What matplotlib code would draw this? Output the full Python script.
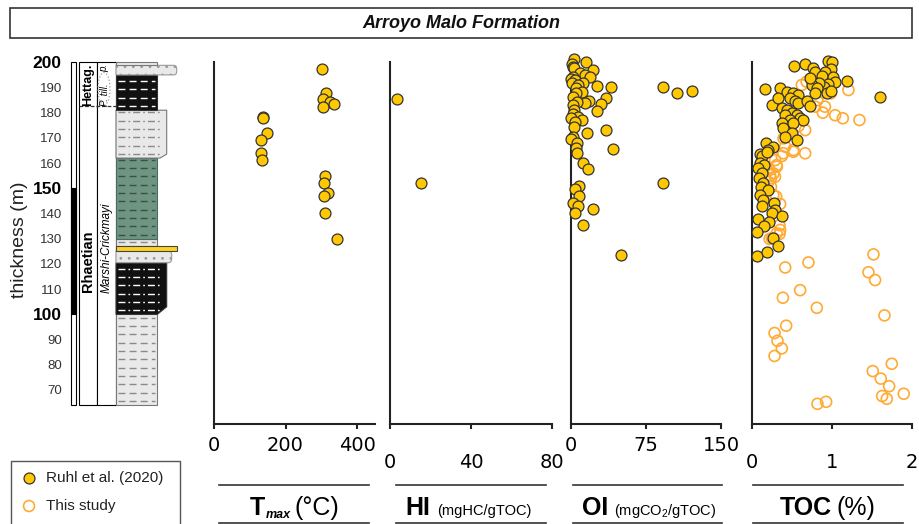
import matplotlib
matplotlib.use("Agg")
import numpy as np
import matplotlib.pyplot as plt
from matplotlib.patches import Rectangle, Polygon, Ellipse

# ---------------- data ----------------
tmax_value = [302, 312, 305, 325, 336, 305, 136, 137, 149, 133, 132, 134, 309, 307, 318, 307, 309, 342]
tmax_depth = [197.3, 187.9, 185.4, 184.1, 183.3, 182.3, 178.4, 177.9, 171.8, 169.2, 164.0, 161.2,
              154.9, 152.1, 148.3, 146.9, 140.3, 129.9]

hi_value = [3.2, 15.2]
hi_depth = [185.6, 152.1]

oi_value = [3.3, 15, 1.0, 2.0, 3.3, 9.3, 22, 14.3, 2.0, 19.3, 0, 4.3, 12.6, 1.0, 26, 40, 7.6, 5.3, 11, 5.3,
            2.6, 18.6, 14.3, 35.3, 30, 6.6, 2.0, 26, 3.3, 2.0, 7.6, 0, 11, 4.3, 3.3, 16, 35.3, 2.0, 0, 6.6,
            5.3, 6.0, 42.6, 12, 17.6, 8.6, 4.3, 8.6, 2.6, 7.6, 4.3, 22.6, 12, 50, 92.6, 106, 121.3, 92.6]
oi_depth = [201.2, 200, 199.3, 198.3, 197.6, 195.9, 196.9, 195.0, 194.3, 194.0, 193.2, 193.0, 191.7, 191.7,
            190.6, 190.1, 191.0, 189.7, 188.3, 187.7, 186.4, 184.6, 184.0, 185.7, 183.5, 184.4, 183.1,
            180.7, 181.1, 179.5, 178.4, 177.8, 177.1, 176.4, 174.5, 172.1, 173.1, 170.5, 169.4, 167.8,
            165.9, 164.1, 165.5, 160.2, 157.5, 150.9, 149.6, 146.9, 144.3, 143.0, 140.3, 141.9, 135.4,
            123.7, 190.1, 188.0, 188.7, 152.2]

toc_ruhl_value = [0.168, 0.533, 0.666, 0.770, 0.791, 0.949, 1.007, 0.990, 0.915, 0.874, 1.019, 1.040, 0.957,
                  0.907, 0.841, 0.749, 0.729, 0.812, 0.791, 0.936, 0.990, 1.185, 1.600, 0.355, 0.438, 0.521,
                  0.583, 0.479, 0.542, 0.575, 0.687, 0.729, 0.259, 0.334, 0.376, 0.438, 0.500, 0.417, 0.562,
                  0.604, 0.645, 0.479, 0.376, 0.521, 0.396, 0.500, 0.562, 0.417, 0.176, 0.272, 0.210, 0.106,
                  0.127, 0.189, 0.106, 0.160, 0.085, 0.135, 0.093, 0.147, 0.118, 0.201, 0.106, 0.147, 0.135,
                  0.284, 0.293, 0.251, 0.376, 0.085, 0.218, 0.160, 0.064, 0.272, 0.326, 0.064, 0.189]
toc_ruhl_depth = [189.3, 198.7, 199.3, 197.9, 196.3, 200.6, 200.2, 197.3, 196.0, 194.7, 194.3, 192.3, 191.3,
                  190.3, 191.7, 191.0, 193.6, 189.7, 187.7, 187.7, 188.6, 192.7, 186.1, 189.7, 188.1, 187.7,
                  187.0, 185.7, 184.6, 183.7, 184.6, 182.8, 183.1, 185.7, 181.7, 181.1, 179.7, 179.1, 179.1,
                  177.8, 177.1, 177.1, 175.8, 175.8, 173.8, 171.8, 169.2, 170.5, 167.8, 166.5, 165.2, 163.5,
                  162.8, 164.5, 159.9, 159.2, 157.9, 155.9, 154.0, 152.0, 150.6, 149.3, 147.3, 145.4, 143.0,
                  144.3, 141.4, 140.1, 139.0, 137.7, 136.8, 135.0, 132.8, 130.1, 127.1, 123.1, 124.9]

toc_study_value = [0.627, 1.208, 0.988, 0.889, 0.822, 0.793, 0.889, 1.042, 1.138, 1.345, 0.669, 0.586, 0.399,
                   0.523, 0.669, 0.420, 0.295, 0.378, 0.316, 0.274, 0.241, 0.308, 0.357, 0.349, 0.357, 0.254,
                   0.225, 0.687, 0.915, 0.521, 0.396, 0.313, 0.230, 0.293, 0.210, 0.243, 0.272, 0.313,
                   1.520, 0.710, 0.420, 1.457, 1.540, 0.606, 0.391, 0.814, 1.657, 0.432, 0.287, 0.324, 0.378,
                   0.287, 1.748, 1.511, 1.611, 1.715, 1.628, 1.686, 1.897, 0.930, 0.822, 0.225, 0.349]
toc_study_depth = [191.0, 189.0, 187.7, 188.0, 185.0, 182.4, 180.0, 179.0, 177.8, 177.1, 173.1, 174.7, 169.8,
                   165.2, 163.9, 166.5, 161.2, 162.8, 158.6, 155.9, 154.0, 146.7, 143.8, 135.4, 133.5, 130.2,
                   157.3, 192.3, 182.4, 164.5, 163.9, 159.2, 155.3, 154.6, 152.6, 150.6, 147.3, 132.1,
                   123.8, 120.6, 118.6, 116.7, 113.6, 109.6, 106.6, 102.6, 99.6, 95.5, 92.6, 89.5, 86.5,
                   83.5, 80.4, 77.5, 74.5, 71.5, 67.6, 66.5, 68.5, 65.3, 64.5, 129.9, 131.9]

tmax_ticks = [0, 200, 400]
hi_ticks = [0, 40, 80]
oi_ticks = [0, 75, 150]
toc_ticks = [0, 1, 2]
depth_ticks = [70, 80, 90, 100, 110, 120, 130, 140, 150, 160, 170, 180, 190, 200]

# lithology units: bottom, top, fill, pattern
unit_bottom = [64.0, 100.0, 120.5, 125.2, 127.1, 130.0, 162.0, 181.0, 195.0, 198.8]
unit_top = [100.0, 120.5, 125.2, 127.1, 130.0, 162.0, 181.0, 195.0, 198.8, 200.0]
unit_kind = ['grey_dash', 'black_dashdot', 'sand', 'yellow', 'grey_dash', 'green_dash',
             'grey_dashdot', 'black_dash', 'sand_top', 'grey_plain']

# ---------------- style ----------------
plt.rcParams['font.family'] = ['Liberation Sans', 'DejaVu Sans']
plt.rcParams['mathtext.fontset'] = 'custom'
plt.rcParams['mathtext.rm'] = 'Liberation Sans'
plt.rcParams['mathtext.it'] = 'Liberation Sans:italic'
plt.rcParams['mathtext.bf'] = 'Liberation Sans:bold'
plt.rcParams['hatch.linewidth'] = 0.8

W, H = 919, 524
fig = plt.figure(figsize=(W / 100, H / 100), dpi=100)

TOP, BOT = 62.3, 424.0
YMIN, YMAX = 56.5, 200.0

GOLD = '#FFC800'
ORANGE = '#FFAA33'
SPINE = '#222222'


def px_axes(x0, x1, y0=TOP, y1=BOT):
    return fig.add_axes([x0 / W, 1 - y1 / H, (x1 - x0) / W, (y1 - y0) / H])


# ---------------- data panels ----------------
panel_specs = [
    (213.7, 375.0, (0, 449), tmax_ticks, 4.7),
    (390.3, 552.0, (0, 80), hi_ticks, 17.0),
    (570.7, 721.0, (0, 150), oi_ticks, 4.7),
    (751.5, 912.0, (0, 2), toc_ticks, 17.0),
]
axes = []
for x0, x1, xl, ticks, pad in panel_specs:
    ax = px_axes(x0, x1)
    ax.set_xlim(*xl)
    ax.set_ylim(YMIN, YMAX)
    ax.set_facecolor('none')
    for s in ('top', 'right'):
        ax.spines[s].set_visible(False)
    for s in ('left', 'bottom'):
        ax.spines[s].set_color(SPINE)
        ax.spines[s].set_linewidth(1.5)
    ax.set_yticks([])
    ax.set_xticks(ticks)
    ax.set_xticklabels([str(t) for t in ticks], fontfamily='DejaVu Sans', fontsize=14)
    ax.tick_params(axis='x', direction='out', length=3.6, width=1.5, color=SPINE, pad=pad)
    axes.append(ax)

ax_t, ax_h, ax_o, ax_c = axes
mk = dict(s=62, clip_on=False)
ax_t.scatter(tmax_value, tmax_depth, facecolor=GOLD, edgecolor='#333333', linewidth=0.9, zorder=3, **mk)
ax_h.scatter(hi_value, hi_depth, facecolor=GOLD, edgecolor='#333333', linewidth=0.9, zorder=3, **mk)
ax_o.scatter(oi_value, oi_depth, facecolor=GOLD, edgecolor='#333333', linewidth=0.9, zorder=3, **mk)
ax_c.scatter(toc_study_value, toc_study_depth, facecolor='none', edgecolor=ORANGE, linewidth=1.2, zorder=2, **mk)
ax_c.scatter(toc_ruhl_value, toc_ruhl_depth, facecolor=GOLD, edgecolor='#333333', linewidth=0.9, zorder=3, **mk)

# ---------------- stratigraphic column ----------------
cax = px_axes(66, 200)
cax.set_xlim(66, 200)
cax.set_ylim(YMIN, YMAX)
cax.set_facecolor('none')
for s in cax.spines.values():
    s.set_visible(False)
cax.set_xticks([])
cax.set_yticks(depth_ticks)
cax.set_yticklabels([str(v) for v in depth_ticks])
cax.tick_params(axis='y', length=0, pad=3)
for lab, v in zip(cax.get_yticklabels(), depth_ticks):
    if v in (100, 150, 200):
        lab.set_fontsize(12.5)
        lab.set_fontweight('bold')
        lab.set_color('black')
    else:
        lab.set_fontsize(9.5)
        lab.set_color('#333333')
cax.set_ylabel('thickness (m)', fontsize=14, color='#222222')
cax.yaxis.set_label_coords((28 - 66) / 134, 0.5087)

COLB = 64.0
# narrow bar
cax.add_patch(Rectangle((70.7, COLB), 5.3, 200 - COLB, facecolor='white', edgecolor='black', lw=0.8, clip_on=False))
cax.add_patch(Rectangle((70.7, 100), 5.3, 50, facecolor='black', edgecolor='black', lw=0.8, clip_on=False))
# stage and zone columns
cax.add_patch(Rectangle((79.3, COLB), 17.4, 200 - COLB, facecolor='white', edgecolor='black', lw=0.8, clip_on=False))
cax.add_patch(Rectangle((96.7, COLB), 19.3, 200 - COLB, facecolor='white', edgecolor='black', lw=0.8, clip_on=False))
cax.plot([79.3, 116], [182.7, 182.7], color='#333333', lw=0.9, dashes=(3, 1.5), clip_on=False)
cax.add_patch(Ellipse((104, 189.5), 12, 13, facecolor='none', edgecolor='#999999', lw=0.9, ls=':', clip_on=False))
cax.text(88, 121.2, 'Rhaetian', rotation=90, fontsize=10.5, fontweight='bold', ha='center', va='center')
cax.text(88, 191.0, 'Hettag.', rotation=90, fontsize=9, fontweight='bold', ha='center', va='center')
cax.text(106.5, 126.5, 'Marshi-Crickmayi', rotation=90, fontsize=8.5, style='italic', ha='center', va='center')
cax.text(104.5, 187.0, 'P. till.', rotation=90, fontsize=7, style='italic', ha='center', va='center')
cax.text(104.5, 197.6, 'p.', rotation=90, fontsize=7, style='italic', ha='center', va='center')

LX = 116.0
GREY = '#e9e9e9'
EDGE = '#777777'


def rounded(b, t, edge, r=2.5):
    h = t - b
    return [(LX, b), (edge - r, b), (edge - r * 0.3, b + h * 0.08), (edge, b + h * 0.3),
            (edge, t - h * 0.3), (edge - r * 0.3, t - h * 0.08), (edge - r, t), (LX, t)]


def chamfer(b, t, edge, cb, dm):
    return [(LX, b), (cb, b), (edge, b + dm), (edge, t), (LX, t)]


def dashes(b, t, x1, color, style, lw=1.0):
    for y in np.arange(b + 1.65, t - 0.6, 3.3):
        cax.plot([LX + 2, x1 - 2], [y, y], color=color, lw=lw, dashes=style,
                 solid_capstyle='butt', dash_capstyle='butt', clip_on=False, zorder=3)


DASH = (5, 3)
DASHDOT = (5, 2.2, 1.2, 2.2)
for b, t, kind in zip(unit_bottom, unit_top, unit_kind):
    if kind == 'grey_dash':
        cax.add_patch(Polygon([(LX, b), (157.3, b), (157.3, t), (LX, t)], closed=True,
                              facecolor=GREY, edgecolor=EDGE, lw=0.8, clip_on=False, zorder=2))
        dashes(b, t, 157.3, '#8a8a8a', DASH)
    elif kind == 'grey_plain':
        cax.add_patch(Polygon([(LX, b), (157.3, b), (157.3, t), (LX, t)], closed=True,
                              facecolor=GREY, edgecolor=EDGE, lw=0.8, clip_on=False, zorder=2))
    elif kind == 'black_dashdot':
        cax.add_patch(Polygon(chamfer(b, t, 166.7, 157.3, 3.0), closed=True,
                              facecolor='#111111', edgecolor='#333333', lw=0.8, clip_on=False, zorder=2))
        dashes(b, t, 162, 'white', DASHDOT)
    elif kind == 'black_dash':
        cax.add_patch(Polygon([(LX, b), (157.3, b), (157.3, t), (LX, t)], closed=True,
                              facecolor='#111111', edgecolor='#333333', lw=0.8, clip_on=False, zorder=2))
        dashes(b, t, 157.3, 'white', DASH)
    elif kind == 'grey_dashdot':
        cax.add_patch(Polygon(chamfer(b, t, 166.7, 160.0, 1.6), closed=True,
                              facecolor=GREY, edgecolor=EDGE, lw=0.8, clip_on=False, zorder=2))
        dashes(b, t, 162, '#8a8a8a', DASHDOT)
    elif kind == 'green_dash':
        cax.add_patch(Polygon([(LX, b), (157.3, b), (157.3, t), (LX, t)], closed=True,
                              facecolor='#6e9482', edgecolor='#4d6b5e', lw=0.8, clip_on=False, zorder=2))
        dashes(b, t, 157.3, '#3c4f47', DASH)
    elif kind == 'sand':
        cax.add_patch(Polygon(rounded(b, t, 171.7), closed=True, facecolor=GREY, edgecolor='#9a9a9a',
                              hatch='..', lw=0.8, clip_on=False, zorder=2))
    elif kind == 'sand_top':
        cax.add_patch(Polygon(rounded(b, t, 176.7), closed=True, facecolor=GREY, edgecolor='#9a9a9a',
                              hatch='..', lw=0.8, clip_on=False, zorder=2))
    elif kind == 'yellow':
        cax.add_patch(Polygon([(LX, b), (176.7, b), (176.7, t), (LX, t)], closed=True,
                              facecolor='#FFD21F', edgecolor='#444444', lw=0.8, clip_on=False, zorder=4))

# ---------------- overlay: title, legend, bottom labels ----------------
ov = fig.add_axes([0, 0, 1, 1])
ov.set_xlim(0, W)
ov.set_ylim(H, 0)
ov.axis('off')

ov.add_patch(Rectangle((10, 8), 902, 30, facecolor='white', edgecolor='#333333', lw=1.2))
ov.text(461, 23, 'Arroyo Malo Formation', fontsize=13, fontweight='bold', style='italic',
        ha='center', va='center', color='#111111')

# legend
ov.add_patch(Rectangle((10.5, 460.5), 169.5, 70, facecolor='white', edgecolor='#555555', lw=1.0, clip_on=False))
ov.scatter([29], [478], s=62, facecolor=GOLD, edgecolor='#333333', linewidth=0.9)
ov.scatter([29], [506], s=62, facecolor='none', edgecolor=ORANGE, linewidth=1.2)
ov.text(45.7, 478, 'Ruhl et al. (2020)', fontsize=11, va='center', ha='left', color='#222222')
ov.text(45.7, 506, 'This study', fontsize=11, va='center', ha='left', color='#222222')

# bottom label boxes
for xa, xb in [(219, 369), (396, 546), (573, 722), (753, 903)]:
    ov.plot([xa, xb], [485, 485], color='#333333', lw=1.2)
    ov.plot([xa, xb], [522.5, 522.5], color='#333333', lw=1.2)

BASE = 515
ov.text(249.5, BASE, 'T', fontsize=18, fontweight='bold', ha='left', va='baseline')
ov.text(265.5, BASE + 3, 'max', fontsize=9, fontweight='bold', style='italic', ha='left', va='baseline')
ov.text(294, BASE, '(°C)', fontsize=18, ha='left', va='baseline')

ov.text(405, BASE, 'HI', fontsize=18, fontweight='bold', ha='left', va='baseline')
ov.text(437, BASE, '(mgHC/gTOC)', fontsize=10.5, ha='left', va='baseline')

ov.text(582, BASE, 'OI', fontsize=18, fontweight='bold', ha='left', va='baseline')
ov.text(614, BASE, r'(mgCO$_2$/gTOC)', fontsize=10.5, ha='left', va='baseline')

ov.text(780, BASE, 'TOC', fontsize=18, fontweight='bold', ha='left', va='baseline')
ov.text(837, BASE, '(%)', fontsize=18, ha='left', va='baseline')

fig.savefig('out.png', dpi=100)
